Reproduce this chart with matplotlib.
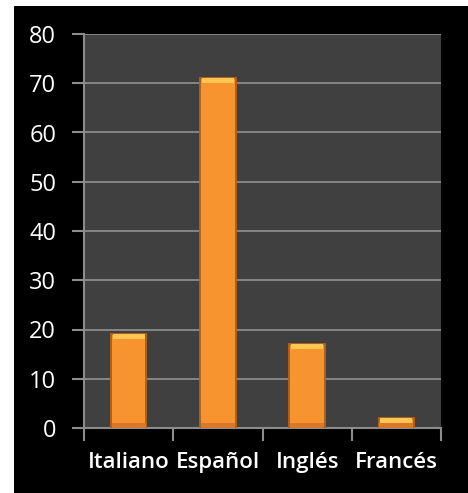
import matplotlib.pyplot as plt
from matplotlib.patches import Rectangle

# Datos
idiomas = ['Italiano', 'Español', 'Inglés', 'Francés']
valores = [19, 71, 17, 2]
y_ticks = [0, 10, 20, 30, 40, 50, 60, 70, 80]

W, H = 468, 493
fig = plt.figure(figsize=(W / 100, H / 100), dpi=100, facecolor='white')

# Fondo negro con borde blanco arriba e izquierda
fig.patches.append(Rectangle((14 / W, 0), 1 - 14 / W, 1 - 6 / H,
                             transform=fig.transFigure, facecolor='black',
                             edgecolor='none', zorder=-5))

ax = fig.add_axes([84 / W, 1 - 428 / H, (441 - 84) / W, (428 - 34) / H])
ax.set_facecolor('#404040')

x = range(len(idiomas))
ax.bar(x, valores, width=0.4, color='#F7942F', edgecolor='#B0601C',
       linewidth=1.4, zorder=3)
# brillo en la parte superior de cada barra
ax.bar(x, [0.9] * len(valores), bottom=[v - 0.9 for v in valores], width=0.36,
       color='#FFC651', edgecolor='none', zorder=4)
# sombra en la parte inferior
ax.bar(x, [1.0] * len(valores), bottom=0, width=0.38,
       color='#D8782A', edgecolor='none', zorder=4)

ax.set_xlim(-0.5, len(idiomas) - 0.5)
ax.set_ylim(0, 80)
ax.set_yticks(y_ticks)
ax.grid(axis='y', color='#8C8C8C', linewidth=1.3, zorder=1)
ax.set_axisbelow(True)

# marcas del eje x entre categorías
ax.set_xticks([i - 0.5 for i in range(len(idiomas) + 1)], minor=False)
ax.set_xticklabels([])
ax.set_xticks(list(x), minor=True)
ax.set_xticklabels(idiomas, minor=True)
ax.tick_params(axis='x', which='major', length=9, width=1.5, color='#8C8C8C',
               direction='out')
ax.tick_params(axis='x', which='minor', length=0, pad=17, labelsize=16,
               labelcolor='white')
ax.tick_params(axis='y', length=9, width=1.5, color='#8C8C8C',
               labelsize=17, labelcolor='white', pad=11)
for lbl in ax.get_xticklabels(minor=True):
    lbl.set_fontfamily('Open Sans')
    lbl.set_fontweight('semibold')
for lbl in ax.get_yticklabels():
    lbl.set_fontfamily('Open Sans')

for side in ['top', 'right']:
    ax.spines[side].set_visible(False)
for side in ['left', 'bottom']:
    ax.spines[side].set_color('#8C8C8C')
    ax.spines[side].set_linewidth(1.5)

fig.savefig('out.png', dpi=100, facecolor=fig.get_facecolor())
